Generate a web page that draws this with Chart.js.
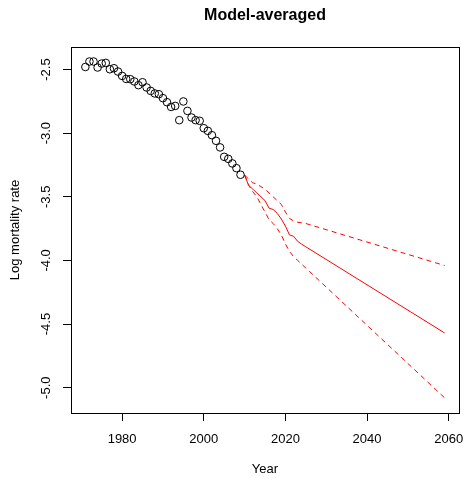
<!DOCTYPE html>
<html>
<head>
<meta charset="utf-8">
<script src="https://cdn.jsdelivr.net/npm/chart.js@4"></script>
<style>
  body { margin: 0; background: #fff; }
  canvas { display: block; }
</style>
</head>
<body>
<canvas id="chart" width="465" height="478"></canvas>
<script>
// observed log mortality rates
const obsYears = [1971, 1972, 1973, 1974, 1975, 1976, 1977, 1978, 1979, 1980,
  1981, 1982, 1983, 1984, 1985, 1986, 1987, 1988, 1989, 1990,
  1991, 1992, 1993, 1994, 1995, 1996, 1997, 1998, 1999, 2000,
  2001, 2002, 2003, 2004, 2005, 2006, 2007, 2008, 2009];
const obsRate = [-2.48, -2.437, -2.437, -2.484, -2.453, -2.448, -2.498, -2.49, -2.516, -2.55,
  -2.574, -2.576, -2.594, -2.623, -2.6, -2.641, -2.668, -2.688, -2.694, -2.725,
  -2.757, -2.794, -2.786, -2.898, -2.751, -2.825, -2.877, -2.898, -2.903, -2.961,
  -2.982, -3.016, -3.06, -3.112, -3.186, -3.202, -3.238, -3.275, -3.327];

// model-averaged forecast and bounds
const fcYears = [2010, 2011, 2012, 2013, 2014, 2015, 2016, 2017, 2018, 2019,
  2020, 2021, 2022, 2023, 2024, 2025, 2059];
const fcMean = [-3.33, -3.41, -3.44, -3.47, -3.50, -3.53, -3.59, -3.60, -3.63, -3.675,
  -3.73, -3.80, -3.81, -3.85, -3.873, -3.893, -4.57];
const fcUpper = [-3.33, -3.36, -3.39, -3.40, -3.42, -3.44, -3.47, -3.50, -3.53, -3.56,
  -3.62, -3.67, -3.69, -3.70, -3.705, -3.71, -4.04];
const fcLower = [-3.33, -3.41, -3.46, -3.50, -3.56, -3.62, -3.68, -3.71, -3.75, -3.80,
  -3.87, -3.93, -3.97, -4.00, -4.03, -4.06, -5.08];

const xTicks = [1980, 2000, 2020, 2040, 2060];
const yTicks = [-5.0, -4.5, -4.0, -3.5, -3.0, -2.5];

const pts = (xs, ys) => xs.map((x, i) => ({ x: x, y: ys[i] }));

Chart.defaults.font.family = "'Liberation Sans', Arial, sans-serif";
Chart.defaults.color = '#000';

// R style box around the plot region
const boxPlugin = {
  id: 'box',
  afterDraw(chart) {
    const { ctx, chartArea: a } = chart;
    ctx.save();
    ctx.strokeStyle = '#000';
    ctx.lineWidth = 1;
    ctx.strokeRect(a.left + 0.5, a.top + 0.5, a.right - a.left, a.bottom - a.top);
    ctx.restore();
  }
};

const lineStyle = {
  showLine: true,
  pointRadius: 0,
  borderColor: '#ff0000',
  borderWidth: 1,
  tension: 0,
  fill: false
};

new Chart(document.getElementById('chart').getContext('2d'), {
  type: 'scatter',
  data: {
    datasets: [
      {
        label: 'Observed',
        data: pts(obsYears, obsRate),
        pointStyle: 'circle',
        pointRadius: 3.8,
        pointBorderWidth: 1,
        borderColor: '#000',
        backgroundColor: 'rgba(0,0,0,0)',
        showLine: false
      },
      Object.assign({ label: 'Mean', data: pts(fcYears, fcMean) }, lineStyle),
      Object.assign({ label: 'Upper', data: pts(fcYears, fcUpper), borderDash: [5, 4] }, lineStyle),
      Object.assign({ label: 'Lower', data: pts(fcYears, fcLower), borderDash: [5, 4] }, lineStyle)
    ]
  },
  options: {
    responsive: false,
    animation: false,
    devicePixelRatio: 1,
    layout: { padding: { top: 0, left: 0, right: 6, bottom: 0 } },
    plugins: {
      legend: { display: false },
      tooltip: { enabled: false },
      title: {
        display: true,
        text: 'Model-averaged',
        fullSize: false,
        font: { size: 16, weight: 'bold' },
        padding: { top: 6.4, bottom: 21.4 }
      }
    },
    scales: {
      x: {
        type: 'linear',
        min: 1967.48,
        max: 2062.52,
        afterBuildTicks: s => { s.ticks = xTicks.map(v => ({ value: v })); },
        afterFit: s => { s.height = 65; s.paddingLeft = 0; s.paddingRight = 0; },
        ticks: {
          autoSkip: false,
          maxRotation: 0,
          padding: 10.5,
          font: { size: 13 },
          callback: v => String(v)
        },
        grid: { drawOnChartArea: false, drawTicks: true, tickLength: 8, color: '#000' },
        border: { display: false },
        title: { display: true, text: 'Year', font: { size: 13 }, padding: { top: 0, bottom: 1 } }
      },
      y: {
        type: 'linear',
        min: -5.199,
        max: -2.323,
        afterBuildTicks: s => { s.ticks = yTicks.map(v => ({ value: v })); },
        afterFit: s => { s.width = 71; s.paddingTop = 0; s.paddingBottom = 0; },
        ticks: {
          autoSkip: false,
          minRotation: 90,
          maxRotation: 90,
          crossAlign: 'center',
          padding: 5.4,
          font: { size: 13 },
          callback: v => v.toFixed(1)
        },
        grid: { drawOnChartArea: false, drawTicks: true, tickLength: 8, color: '#000' },
        border: { display: false },
        title: { display: true, text: 'Log mortality rate', font: { size: 13 }, padding: { top: 7.2, bottom: 0 } }
      }
    }
  },
  plugins: [boxPlugin]
});
</script>
</body>
</html>
